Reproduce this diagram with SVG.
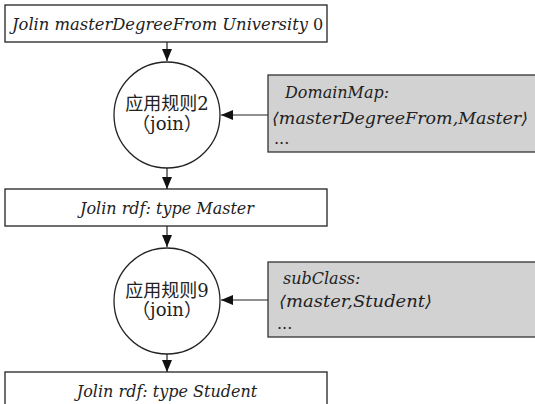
<svg xmlns="http://www.w3.org/2000/svg" width="535" height="404" viewBox="0 0 535 404">
<style>
.box{fill:#fff;stroke:#222;stroke-width:1.3}
.gbox{fill:#d2d2d2;stroke:#333;stroke-width:1.3}
.circ{fill:#fff;stroke:#222;stroke-width:1.3}
.t{font-family:'DejaVu Serif',serif;font-style:italic;font-size:16px;fill:#222}
.u{font-style:normal}
.c{font-family:'DejaVu Serif','Noto Sans CJK SC',serif;font-size:18px;fill:#222}
.e{stroke:#222;stroke-width:1.2;fill:none}
</style>
<defs>
<marker id="ahb" viewBox="0 0 12 10" refX="12" refY="5" markerWidth="12" markerHeight="10" markerUnits="userSpaceOnUse" orient="auto">
<path d="M0,0 L12,5 L0,10 Z" fill="#111"/>
</marker>
</defs>
<g id="connectors">
<line class="e" x1="167" y1="42" x2="167" y2="61" marker-end="url(#ahb)"/>
<line class="e" x1="268" y1="115" x2="221" y2="115" marker-end="url(#ahb)"/>
<line class="e" x1="167" y1="168" x2="167" y2="189" marker-end="url(#ahb)"/>
<line class="e" x1="167" y1="226" x2="167" y2="247" marker-end="url(#ahb)"/>
<line class="e" x1="268" y1="300" x2="221" y2="300" marker-end="url(#ahb)"/>
<line class="e" x1="167" y1="354" x2="167" y2="372" marker-end="url(#ahb)"/>
</g>
<g id="n1">
<rect class="box" x="5" y="5" width="322" height="37"/>
<text class="t" x="12" y="30" textLength="296" lengthAdjust="spacingAndGlyphs">Jolin masterDegreeFrom University</text>
<text class="t u" x="313" y="30">0</text>
</g>
<g id="rule2">
<circle class="circ" cx="167" cy="115" r="53"/>
<text class="c" x="167" y="110" text-anchor="middle">应用规则2</text>
<text class="c" x="167" y="130" text-anchor="middle">（join）</text>
</g>
<g id="domainmap">
<rect class="gbox" x="268" y="75" width="280" height="77"/>
<text class="t" x="285" y="98">DomainMap:</text>
<text class="t" x="272" y="124" textLength="256" lengthAdjust="spacingAndGlyphs">⟨masterDegreeFrom,Master⟩</text>
<text class="t u" x="274" y="144">...</text>
</g>
<g id="n2">
<rect class="box" x="5" y="189" width="322" height="37"/>
<text class="t" x="167" y="214" text-anchor="middle">Jolin rdf: type Master</text>
</g>
<g id="rule9">
<circle class="circ" cx="167" cy="301" r="53"/>
<text class="c" x="167" y="297" text-anchor="middle">应用规则9</text>
<text class="c" x="167" y="316" text-anchor="middle">（join）</text>
</g>
<g id="subclass">
<rect class="gbox" x="268" y="262" width="280" height="75"/>
<text class="t" x="283" y="284">subClass:</text>
<text class="t" x="279" y="307" textLength="153" lengthAdjust="spacingAndGlyphs">⟨master,Student⟩</text>
<text class="t u" x="277" y="329">...</text>
</g>
<g id="n3">
<rect class="box" x="5" y="372" width="322" height="40"/>
<text class="t" x="167" y="397" text-anchor="middle">Jolin rdf: type Student</text>
</g>
</svg>
